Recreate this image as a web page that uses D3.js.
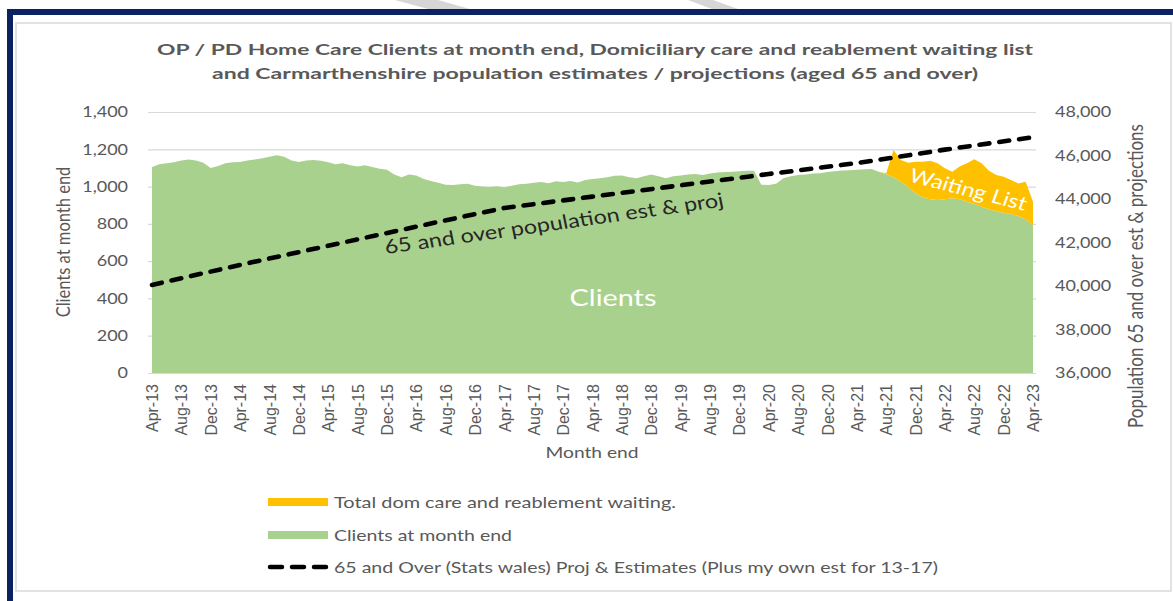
<!DOCTYPE html>
<html>
<head>
<meta charset="utf-8">
<script src="https://cdn.jsdelivr.net/npm/d3@7"></script>
<style>
  body { margin: 0; background: #fff; }
  svg text { font-family: Lato, "Open Sans", sans-serif; }
</style>
</head>
<body>
<div id="chart"></div>
<script>
// month categories Apr-13 .. Apr-23
const monthLabels = d3.timeMonth.range(new Date(2013, 3, 1), new Date(2023, 4, 1)).map(d3.timeFormat("%b-%y"));

const xTickLabels = ["Apr-13","Aug-13","Dec-13","Apr-14","Aug-14","Dec-14","Apr-15","Aug-15","Dec-15",
  "Apr-16","Aug-16","Dec-16","Apr-17","Aug-17","Dec-17","Apr-18","Aug-18","Dec-18","Apr-19","Aug-19",
  "Dec-19","Apr-20","Aug-20","Dec-20","Apr-21","Aug-21","Dec-21","Apr-22","Aug-22","Dec-22","Apr-23"];

const leftTicks = [0, 200, 400, 600, 800, 1000, 1200, 1400];
const rightTicks = [36000, 38000, 40000, 42000, 44000, 46000, 48000];

// clients at month end, Apr-13 .. Apr-23
const clients = [
  1105, 1120, 1125, 1130, 1140, 1145, 1140, 1128, 1100, 1110, 1125, 1130,
  1132, 1140, 1145, 1152, 1160, 1168, 1160, 1140, 1132, 1140, 1142, 1138,
  1130, 1120, 1125, 1115, 1108, 1115, 1105, 1095, 1090, 1065, 1050, 1065,
  1060, 1040, 1030, 1020, 1010, 1008, 1012, 1015, 1005, 1000, 998, 1002,
  995, 1005, 1012, 1015, 1020, 1025, 1018, 1028, 1025, 1030, 1022, 1035,
  1040, 1045, 1050, 1058, 1060, 1050, 1045, 1055, 1065, 1055, 1045, 1055,
  1060, 1065, 1068, 1062, 1070, 1075, 1078, 1080, 1082, 1085, 1085, 1010,
  1008, 1015, 1044, 1055, 1062, 1065, 1070, 1072, 1078, 1082, 1086, 1088,
  1090, 1093, 1094, 1080, 1066, 1050, 1026, 996, 964, 942, 932, 928,
  932, 937, 932, 919, 906, 892, 878, 867, 860, 853, 842, 824,
  794
];

// dom care and reablement waiting list, Aug-21 .. Apr-23
const waitingStart = "Aug-21";
const waiting = [5, 146, 117, 132, 169, 191, 207, 197, 166, 143, 175, 206, 240, 233, 207, 195, 193, 182, 175, 202, 125];

// 65 and over population estimates / projections
const popLabels = ["Apr-13","Apr-14","Apr-15","Apr-16","Apr-17","Apr-18","Apr-19","Apr-20","Apr-21","Apr-22","Apr-23"];
const population = [40050, 40970, 41850, 42730, 43590, 44110, 44630, 45150, 45650, 46270, 46840];

const W = 1173, H = 601;
const SX = 1.2; // source picture is stretched horizontally
const grey = "#595959";

const svg = d3.select("#chart").append("svg")
    .attr("width", W)
    .attr("height", H);

// frame
svg.append("rect")
    .attr("x", 16).attr("y", 23).attr("width", 1155).attr("height", 568)
    .attr("fill", "#fff").attr("stroke", "#d9d9d9").attr("stroke-width", 1.5);
svg.append("rect").attr("x", 7).attr("y", 9).attr("width", 1170).attr("height", 6).attr("fill", "#0b2260");
svg.append("rect").attr("x", 7).attr("y", 9).attr("width", 6).attr("height", 600).attr("fill", "#0b2260");
svg.append("polygon").attr("points", "395,0 438,0 470,9 428,9").attr("fill", "#d6d6d6");
svg.append("polygon").attr("points", "688,0 713,0 738,9 712,9").attr("fill", "#d6d6d6");

const x = d3.scalePoint().domain(monthLabels).range([152, 1033]);
const yL = d3.scaleLinear().domain([0, 1400]).range([373, 112]);
const yR = d3.scaleLinear().domain([36000, 48000]).range([373, 112]);

// gridlines
const grid = svg.append("g")
    .attr("transform", "translate(148,0)")
    .call(d3.axisLeft(yL).tickValues(leftTicks).tickSize(-888).tickFormat(""));
grid.select(".domain").remove();
grid.selectAll("line").attr("stroke", "#d9d9d9").attr("stroke-width", 1.2);

// stacked areas
const wStart = monthLabels.indexOf(waitingStart);
const rows = monthLabels.map((m, i) => ({
    month: m,
    clients: clients[i],
    waiting: i >= wStart ? waiting[i - wStart] : 0
}));
const stacked = d3.stack().keys(["clients", "waiting"])(rows);
const area = d3.area()
    .x(d => x(d.data.month))
    .y0(d => yL(d[0]))
    .y1(d => yL(d[1]));
const areaColors = { clients: "#a9d18e", waiting: "#ffc000" };

svg.append("g").selectAll("path")
    .data(stacked)
    .join("path")
    .attr("d", area)
    .attr("fill", d => areaColors[d.key]);

// population line
const popLine = d3.line()
    .x((d, i) => x(popLabels[i]))
    .y(d => yR(d));
svg.append("path")
    .datum(population)
    .attr("d", popLine)
    .attr("fill", "none")
    .attr("stroke", "#000")
    .attr("stroke-width", 4.6)
    .attr("stroke-linecap", "round")
    .attr("stroke-dasharray", "10,10");

// left axis
const axL = svg.append("g")
    .attr("transform", "translate(137,0)")
    .call(d3.axisLeft(yL).tickValues(leftTicks).tickSize(0).tickPadding(7.5).tickFormat(d3.format(",")));
axL.select(".domain").remove();
axL.selectAll("text")
    .attr("transform", `scale(${SX},1)`)
    .style("font-size", "15px").attr("fill", grey);

// right axis
const axR = svg.append("g")
    .attr("transform", "translate(1046,0)")
    .call(d3.axisRight(yR).tickValues(rightTicks).tickSize(0).tickPadding(7.5).tickFormat(d3.format(",")));
axR.select(".domain").remove();
axR.selectAll("text")
    .attr("transform", `scale(${SX},1)`)
    .style("font-size", "15px").attr("fill", grey);

// bottom axis
const axB = svg.append("g")
    .attr("transform", "translate(0,384)")
    .call(d3.axisBottom(x).tickValues(xTickLabels).tickSize(0));
axB.select(".domain").remove();
axB.selectAll("text")
    .attr("transform", "rotate(-90)")
    .attr("x", 0).attr("y", 0).attr("dy", "0.35em")
    .style("text-anchor", "end")
    .style("font-family", "'Liberation Sans', Arial, sans-serif")
    .style("font-size", "16px")
    .attr("fill", grey);

// titles
svg.append("text")
    .attr("x", 595).attr("y", 55)
    .attr("text-anchor", "middle")
    .attr("textLength", 876).attr("lengthAdjust", "spacingAndGlyphs")
    .style("font-size", "15.5px").style("font-weight", "bold").attr("fill", grey)
    .text("OP / PD Home Care Clients at month end, Domiciliary care and reablement waiting list");
svg.append("text")
    .attr("x", 595).attr("y", 79)
    .attr("text-anchor", "middle")
    .attr("textLength", 766).attr("lengthAdjust", "spacingAndGlyphs")
    .style("font-size", "15.5px").style("font-weight", "bold").attr("fill", grey)
    .text("and Carmarthenshire population estimates / projections (aged 65 and over)");

svg.append("text")
    .attr("transform", `translate(70,242) scale(${SX},1) rotate(-90)`)
    .attr("text-anchor", "middle")
    .style("font-size", "16.5px").attr("fill", grey)
    .text("Clients at month end");

svg.append("text")
    .attr("transform", `translate(1143,276) scale(${SX},1) rotate(-90)`)
    .attr("text-anchor", "middle")
    .style("font-size", "17px").attr("fill", grey)
    .text("Population 65 and over est & projections");

svg.append("text")
    .attr("transform", `translate(592,458) scale(${SX},1)`)
    .attr("text-anchor", "middle")
    .style("font-size", "16px").attr("fill", grey)
    .text("Month end");

// in-chart labels
svg.append("text")
    .attr("transform", `translate(613,306) scale(${SX},1)`)
    .attr("text-anchor", "middle")
    .style("font-size", "24px").attr("fill", "#fff")
    .text("Clients");

svg.append("text")
    .attr("transform", `translate(966,196) scale(${SX},1) rotate(17)`)
    .attr("text-anchor", "middle")
    .style("font-size", "19.5px").attr("fill", "#fff")
    .text("Waiting List");

svg.append("text")
    .attr("transform", `translate(386,254) scale(${SX},1) rotate(-9.6)`)
    .style("font-size", "19.5px").attr("fill", "#262626")
    .text("65 and over population est & proj");

// legend
const legendItems = [
    { label: "Total dom care and reablement waiting.", type: "rect", color: "#ffc000", y: 502, w: 342 },
    { label: "Clients at month end", type: "rect", color: "#a9d18e", y: 535, w: 178 },
    { label: "65 and Over (Stats wales) Proj & Estimates (Plus my own est for 13-17)", type: "line", color: "#000", y: 567, w: 604 }
];
const lg = svg.append("g").selectAll("g")
    .data(legendItems)
    .join("g")
    .attr("transform", d => `translate(0,${d.y})`);
lg.filter(d => d.type === "rect").append("rect")
    .attr("x", 268).attr("y", -4).attr("width", 60).attr("height", 8)
    .attr("fill", d => d.color);
lg.filter(d => d.type === "line").append("line")
    .attr("x1", 270).attr("x2", 328).attr("y1", 0).attr("y2", 0)
    .attr("stroke", "#000").attr("stroke-width", 4.5)
    .attr("stroke-linecap", "round").attr("stroke-dasharray", "12,10");
lg.append("text")
    .attr("x", 334).attr("y", 5.5)
    .attr("textLength", d => d.w).attr("lengthAdjust", "spacingAndGlyphs")
    .style("font-size", "15px").attr("fill", grey)
    .text(d => d.label);
</script>
</body>
</html>
